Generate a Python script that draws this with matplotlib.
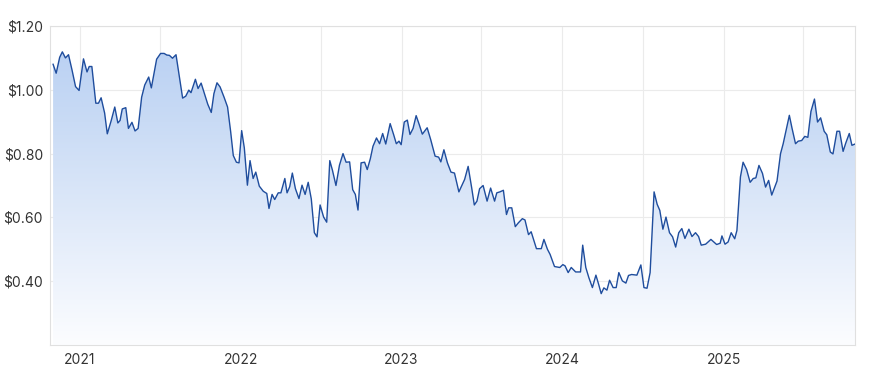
import matplotlib
matplotlib.use("Agg")
import matplotlib.pyplot as plt
import matplotlib.dates as mdates
import numpy as np
import pandas as pd
from matplotlib.colors import LinearSegmentedColormap

dates = [
    "2020-11-01", "2020-11-08", "2020-11-16", "2020-11-22", "2020-11-29", "2020-12-06",
    "2020-12-14", "2020-12-22", "2020-12-30", "2021-01-09", "2021-01-17", "2021-01-22",
    "2021-01-28", "2021-02-06", "2021-02-12", "2021-02-18", "2021-02-26", "2021-03-04",
    "2021-03-13", "2021-03-21", "2021-03-28", "2021-04-02", "2021-04-07", "2021-04-15",
    "2021-04-21", "2021-04-29", "2021-05-06", "2021-05-13", "2021-05-21", "2021-05-28",
    "2021-06-06", "2021-06-12", "2021-06-24", "2021-07-03", "2021-07-11", "2021-07-17",
    "2021-07-23", "2021-07-30", "2021-08-07", "2021-08-14", "2021-08-22", "2021-08-29",
    "2021-09-05", "2021-09-10", "2021-09-20", "2021-09-26", "2021-10-03", "2021-10-10",
    "2021-10-18", "2021-10-26", "2021-11-01", "2021-11-08", "2021-11-15", "2021-11-24",
    "2021-12-02", "2021-12-09", "2021-12-15", "2021-12-22", "2021-12-28", "2022-01-03",
    "2022-01-09", "2022-01-16", "2022-01-22", "2022-01-29", "2022-02-04", "2022-02-12",
    "2022-02-21", "2022-03-01", "2022-03-06", "2022-03-13", "2022-03-19", "2022-03-27",
    "2022-04-02", "2022-04-11", "2022-04-16", "2022-04-22", "2022-04-28", "2022-05-05",
    "2022-05-13", "2022-05-20", "2022-05-27", "2022-06-03", "2022-06-10", "2022-06-17",
    "2022-06-23", "2022-06-30", "2022-07-08", "2022-07-15", "2022-07-22", "2022-07-28",
    "2022-08-05", "2022-08-13", "2022-08-21", "2022-08-28", "2022-09-05", "2022-09-12",
    "2022-09-18", "2022-09-24", "2022-10-01", "2022-10-09", "2022-10-15", "2022-10-22",
    "2022-10-28", "2022-11-05", "2022-11-12", "2022-11-19", "2022-11-26", "2022-12-06",
    "2022-12-14", "2022-12-20", "2022-12-26", "2022-12-31", "2023-01-07", "2023-01-14",
    "2023-01-20", "2023-01-27", "2023-02-03", "2023-02-10", "2023-02-17", "2023-02-28",
    "2023-03-08", "2023-03-18", "2023-03-26", "2023-03-31", "2023-04-07", "2023-04-15",
    "2023-04-23", "2023-05-01", "2023-05-11", "2023-05-24", "2023-06-01", "2023-06-09",
    "2023-06-15", "2023-06-21", "2023-06-27", "2023-07-05", "2023-07-14", "2023-07-22",
    "2023-07-31", "2023-08-05", "2023-08-12", "2023-08-20", "2023-08-27", "2023-09-01",
    "2023-09-08", "2023-09-16", "2023-09-23", "2023-10-02", "2023-10-08", "2023-10-16",
    "2023-10-22", "2023-11-03", "2023-11-14", "2023-11-20", "2023-11-28", "2023-12-04",
    "2023-12-14", "2023-12-26", "2024-01-02", "2024-01-07", "2024-01-14", "2024-01-21",
    "2024-01-31", "2024-02-11", "2024-02-16", "2024-02-23", "2024-03-01", "2024-03-09",
    "2024-03-17", "2024-03-23", "2024-03-29", "2024-04-04", "2024-04-11", "2024-04-17",
    "2024-04-25", "2024-05-02", "2024-05-08", "2024-05-16", "2024-05-24", "2024-05-30",
    "2024-06-06", "2024-06-18", "2024-06-27", "2024-07-04", "2024-07-11", "2024-07-18",
    "2024-07-27", "2024-08-03", "2024-08-09", "2024-08-16", "2024-08-23", "2024-08-31",
    "2024-09-07", "2024-09-14", "2024-09-21", "2024-09-28", "2024-10-05", "2024-10-14",
    "2024-10-21", "2024-10-29", "2024-11-05", "2024-11-11", "2024-11-21", "2024-12-03",
    "2024-12-16", "2024-12-24", "2024-12-28", "2025-01-04", "2025-01-11", "2025-01-18",
    "2025-01-26", "2025-01-31", "2025-02-08", "2025-02-14", "2025-02-22", "2025-03-02",
    "2025-03-09", "2025-03-15", "2025-03-22", "2025-03-30", "2025-04-06", "2025-04-13",
    "2025-04-20", "2025-05-02", "2025-05-10", "2025-05-16", "2025-05-30", "2025-06-05",
    "2025-06-13", "2025-06-19", "2025-06-27", "2025-07-04", "2025-07-11", "2025-07-18",
    "2025-07-26", "2025-08-02", "2025-08-09", "2025-08-17", "2025-08-23", "2025-08-31",
    "2025-09-06", "2025-09-15", "2025-09-21", "2025-09-29", "2025-10-05", "2025-10-13",
    "2025-10-19", "2025-10-26",
]

prices = [
    1.080, 1.052, 1.102, 1.119, 1.100, 1.110,
    1.062, 1.010, 0.998, 1.097, 1.056, 1.073,
    1.073, 0.958, 0.958, 0.975, 0.927, 0.862,
    0.904, 0.946, 0.896, 0.904, 0.940, 0.944,
    0.879, 0.898, 0.871, 0.879, 0.977, 1.015,
    1.040, 1.006, 1.096, 1.114, 1.114, 1.109,
    1.108, 1.099, 1.110, 1.047, 0.974, 0.980,
    0.999, 0.991, 1.033, 1.004, 1.021, 0.990,
    0.955, 0.929, 0.988, 1.022, 1.009, 0.977,
    0.946, 0.869, 0.794, 0.773, 0.771, 0.872,
    0.818, 0.701, 0.778, 0.722, 0.742, 0.698,
    0.682, 0.675, 0.628, 0.672, 0.656, 0.677,
    0.677, 0.722, 0.677, 0.696, 0.739, 0.690,
    0.659, 0.701, 0.672, 0.710, 0.658, 0.552,
    0.539, 0.639, 0.601, 0.585, 0.778, 0.748,
    0.700, 0.764, 0.800, 0.773, 0.774, 0.687,
    0.672, 0.623, 0.771, 0.773, 0.750, 0.784,
    0.823, 0.849, 0.831, 0.863, 0.830, 0.894,
    0.859, 0.831, 0.839, 0.828, 0.899, 0.905,
    0.860, 0.879, 0.919, 0.891, 0.861, 0.881,
    0.844, 0.792, 0.789, 0.774, 0.812, 0.771,
    0.742, 0.739, 0.680, 0.719, 0.760, 0.693,
    0.639, 0.651, 0.690, 0.700, 0.651, 0.692,
    0.651, 0.677, 0.680, 0.685, 0.609, 0.630,
    0.630, 0.571, 0.583, 0.596, 0.592, 0.546,
    0.555, 0.502, 0.502, 0.531, 0.500, 0.484,
    0.446, 0.443, 0.452, 0.448, 0.427, 0.443,
    0.429, 0.429, 0.513, 0.443, 0.411, 0.380,
    0.419, 0.391, 0.361, 0.379, 0.372, 0.403,
    0.380, 0.380, 0.427, 0.401, 0.394, 0.418,
    0.421, 0.419, 0.451, 0.380, 0.378, 0.427,
    0.680, 0.641, 0.622, 0.563, 0.601, 0.552,
    0.539, 0.507, 0.552, 0.565, 0.534, 0.563,
    0.540, 0.552, 0.540, 0.513, 0.516, 0.531,
    0.515, 0.519, 0.542, 0.516, 0.523, 0.552,
    0.533, 0.559, 0.727, 0.773, 0.750, 0.710,
    0.722, 0.724, 0.763, 0.738, 0.695, 0.716,
    0.670, 0.714, 0.800, 0.831, 0.920, 0.880,
    0.831, 0.839, 0.841, 0.854, 0.851, 0.932,
    0.971, 0.899, 0.912, 0.870, 0.859, 0.805,
    0.799, 0.870, 0.870, 0.807, 0.833, 0.863,
    0.826, 0.830,
]

y_ticks = [0.40, 0.60, 0.80, 1.00, 1.20]
y_labels = ["$0.40", "$0.60", "$0.80", "$1.00", "$1.20"]
year_ticks = ["2021-01-01", "2022-01-01", "2023-01-01", "2024-01-01", "2025-01-01"]
year_labels = ["2021", "2022", "2023", "2024", "2025"]
half_ticks = ["2021-07-01", "2022-07-01", "2023-07-01", "2024-07-01", "2025-07-01"]

plt.rcParams['font.family'] = ['Inter', 'DejaVu Sans']

x = pd.to_datetime(dates)
x_start = pd.Timestamp("2020-10-25")
x_end = pd.Timestamp("2025-10-26")
y_min, y_max = 0.2, 1.2

fig = plt.figure(figsize=(8.75, 3.79), dpi=100)
ax = fig.add_axes([50 / 875, 34 / 379, 805 / 875, 319 / 379])

# area under the line, filled with a vertical fade
area = ax.fill_between(x, prices, y_min, color='none', lw=0)
fade = LinearSegmentedColormap.from_list(
    'fade', [(0.0, '#fcfdff'), (0.35, '#e3ecfa'), (0.7, '#c9dbf5'), (1.0, '#b6cef2')])
grad = np.linspace(0, 1, 256).reshape(-1, 1)
x0, x1 = mdates.date2num(x_start), mdates.date2num(x_end)
img = ax.imshow(grad, cmap=fade, aspect='auto', origin='lower',
                extent=[x0, x1, y_min, y_max], zorder=1)
img.set_clip_path(area.get_paths()[0], transform=ax.transData)

ax.plot(x, prices, color='#1f4d9d', lw=1.0, zorder=3)

ax.set_xlim(x_start, x_end)
ax.set_ylim(y_min, y_max)
ax.set_yticks(y_ticks)
ax.set_yticklabels(y_labels)
ax.set_xticks(pd.to_datetime(year_ticks))
ax.set_xticklabels(year_labels)
ax.set_xticks(pd.to_datetime(half_ticks), minor=True)

ax.grid(which='both', color='#ebebeb', lw=0.8, zorder=0)
ax.set_axisbelow(True)
ax.tick_params(which='both', length=0, labelsize=10, colors='#333333')
ax.tick_params(axis='y', pad=5)
ax.tick_params(axis='x', pad=6)
for s in ax.spines.values():
    s.set_color('#e0e0e0')
    s.set_linewidth(0.8)

fig.savefig('out.png', dpi=100)
